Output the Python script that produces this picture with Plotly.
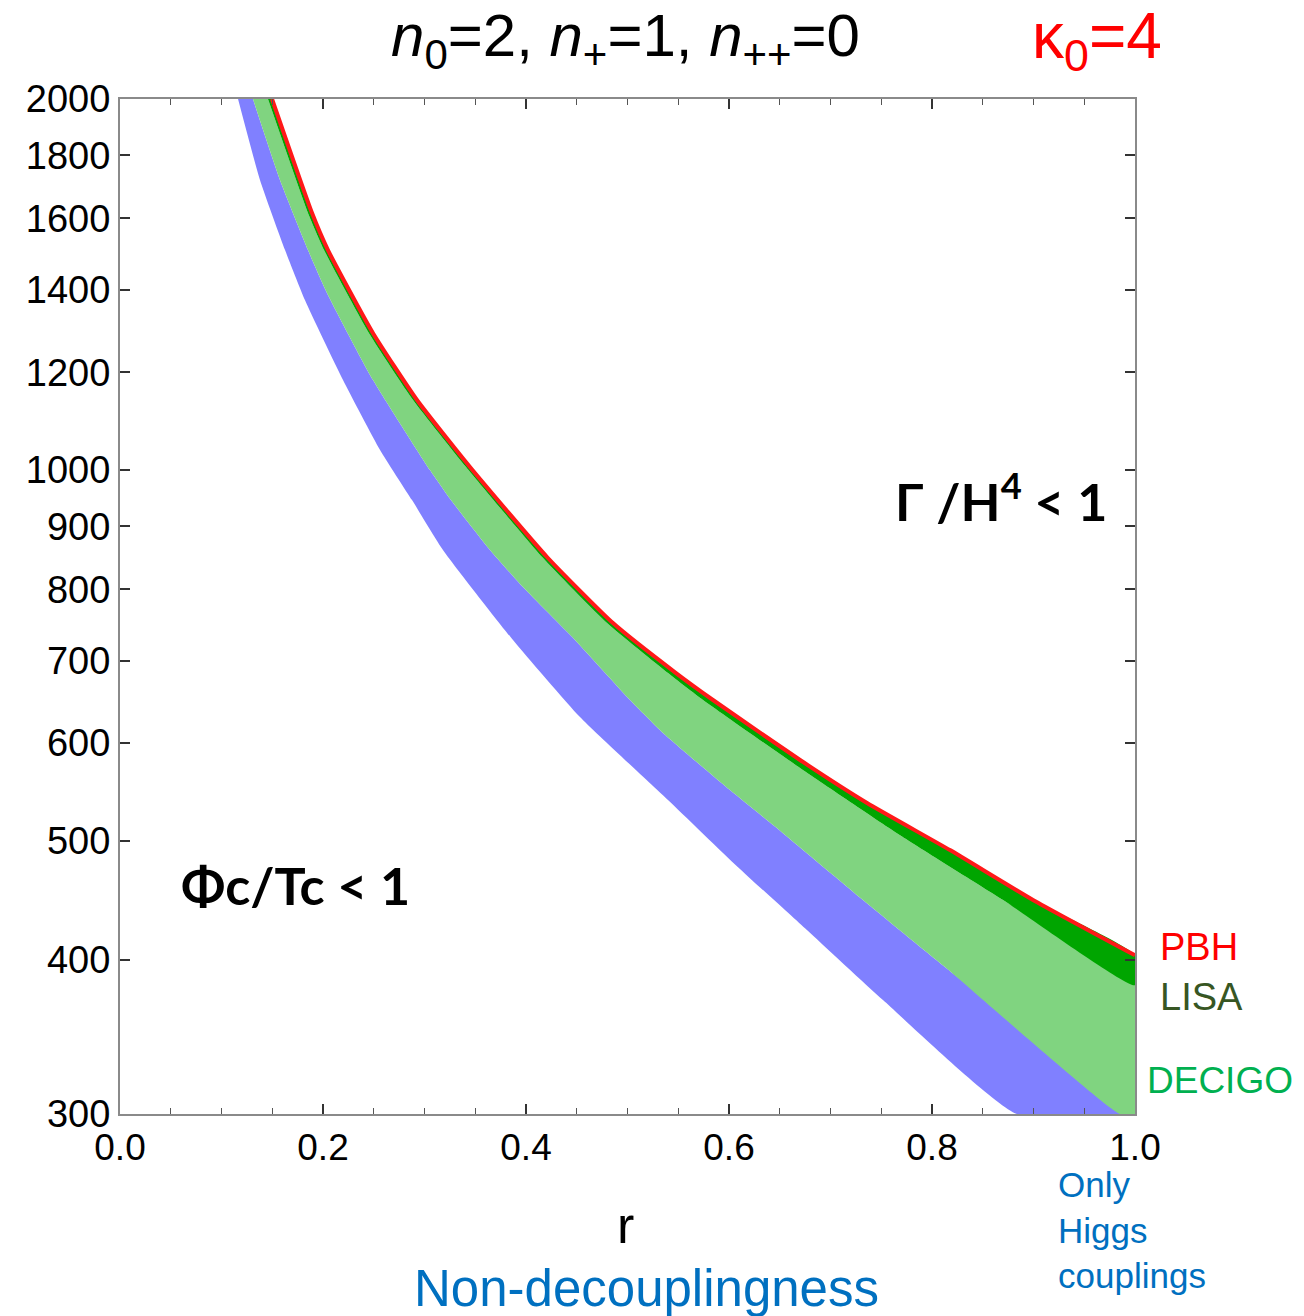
import plotly.graph_objects as go

# ---- data (r, T) ----
# lower-left edge of the blue region
blue_lo_r = [0.1163, 0.1379, 0.1626, 0.1823, 0.2197, 0.2562, 0.2877, 0.3182, 0.3872, 0.4532, 0.5399, 0.6089, 0.6768, 0.7517, 0.8837]
blue_lo_T = [2000, 1719, 1508, 1373, 1183, 1038, 945, 861, 727.6, 630, 539.6, 475.9, 423.1, 371.2, 300]

# boundary blue / light green (DECIGO lower edge)
decigo_lo_r = [0.1310, 0.1576, 0.1852, 0.2039, 0.2493, 0.3054, 0.3261, 0.3645, 0.3970, 0.4483, 0.5025, 0.5350, 0.6010, 0.6532, 0.7320, 0.8128, 0.9852]
decigo_lo_T = [2000, 1719, 1508, 1392, 1183, 999.6, 945, 861, 803.2, 727.6, 650.4, 611.5, 549.6, 507.1, 447.6, 394.8, 300]

# boundary light green / dark green (LISA lower edge)
lisa_lo_r = [0.1458, 0.1852, 0.2010, 0.2453, 0.2887, 0.3409, 0.4158, 0.4798, 0.5399, 0.5744, 0.6700, 0.7685, 0.8700, 1.0]
lisa_lo_T = [2000, 1616, 1508, 1291, 1139.5, 1005.3, 849.7, 751.0, 684.0, 650.4, 572.8, 505.2, 447.6, 381.7]

# upper edge (PBH line)
pbh_r = [0.1498, 0.1892, 0.2049, 0.2493, 0.2926, 0.3448, 0.4207, 0.4857, 0.5478, 0.5842, 0.6700, 0.7360, 0.8177, 0.8995, 1.0]
pbh_T = [2000, 1616, 1508, 1291, 1139.5, 1005.3, 849.7, 751.0, 684.0, 650.4, 581.4, 536.5, 491.3, 447.6, 403.6]

x_range = [0.0, 1.0]
y_range = [300, 2000]
x_ticks = [0.0, 0.2, 0.4, 0.6, 0.8, 1.0]
x_ticktext = ["0.0", "0.2", "0.4", "0.6", "0.8", "1.0"]
y_ticks = [300, 400, 500, 600, 700, 800, 900, 1000, 1200, 1400, 1600, 1800, 2000]
y_ticktext = [str(v) for v in y_ticks]

BLUE = "rgb(128,128,255)"
LGREEN = "rgb(128,212,128)"
DGREEN = "rgb(0,165,0)"
RED = "rgb(255,25,25)"

fig = go.Figure()

SM = 0.5

# blue region
fig.add_trace(go.Scatter(
    x=blue_lo_r + decigo_lo_r[::-1], y=blue_lo_T + decigo_lo_T[::-1],
    fill="toself", fillcolor=BLUE, mode="lines",
    line=dict(width=0, shape="spline", smoothing=SM),
    hoverinfo="skip", showlegend=False))

# light green region (DECIGO)
fig.add_trace(go.Scatter(
    x=decigo_lo_r + [x_range[1]] + lisa_lo_r[::-1],
    y=decigo_lo_T + [y_range[0]] + lisa_lo_T[::-1],
    fill="toself", fillcolor=LGREEN, mode="lines",
    line=dict(width=0, shape="spline", smoothing=SM),
    hoverinfo="skip", showlegend=False))

# dark green region (LISA)
fig.add_trace(go.Scatter(
    x=lisa_lo_r + pbh_r[::-1], y=lisa_lo_T + pbh_T[::-1],
    fill="toself", fillcolor=DGREEN, mode="lines",
    line=dict(width=0, shape="spline", smoothing=SM),
    hoverinfo="skip", showlegend=False))

# red PBH line
fig.add_trace(go.Scatter(
    x=pbh_r, y=pbh_T, mode="lines",
    line=dict(color=RED, width=4, shape="spline", smoothing=SM),
    hoverinfo="skip", showlegend=False))

L, R, T, B = 120, 1135, 99, 1114
W, H = 1304, 1316

def px(xp):
    return (xp - L) / (R - L)

def py(yp):
    return (B - yp) / (B - T)

fig.update_layout(
    width=W, height=H,
    margin=dict(l=L, r=W - R, t=T, b=H - B),
    plot_bgcolor="white", paper_bgcolor="white",
    font=dict(family="Liberation Sans, Arial, sans-serif", color="black"),
)

fig.update_xaxes(
    range=x_range, tickvals=x_ticks, ticktext=x_ticktext,
    showgrid=False, zeroline=False,
    showline=True, linecolor="#8a8a8a", linewidth=2, mirror="ticks",
    ticks="inside", ticklen=10, tickwidth=1.5, tickcolor="#333",
    tickfont=dict(size=37, family="Liberation Sans, Arial, sans-serif"),
    minor=dict(dtick=0.05, ticks="inside", ticklen=6, tickwidth=1, tickcolor="#555"),
)
fig.update_yaxes(
    type="log", range=[3.0 - 0.5228787, 3.30103],
    tickvals=y_ticks, ticktext=y_ticktext,
    showgrid=False, zeroline=False,
    showline=True, linecolor="#8a8a8a", linewidth=2, mirror="ticks",
    ticks="inside", ticklen=10, tickwidth=1.5, tickcolor="#333",
    tickfont=dict(size=38, family="Liberation Sans, Arial, sans-serif"),
)

ann = []
def add(text, x, y, size, color="black", family="Liberation Sans, Arial, sans-serif", xanchor="center", yanchor="middle"):
    ann.append(dict(text=text, x=px(x), y=py(y), xref="paper", yref="paper",
                    showarrow=False, font=dict(size=size, color=color, family=family),
                    xanchor=xanchor, yanchor=yanchor, align="left"))

add("<i>n</i><sub>0</sub>=2, <i>n</i><sub>+</sub>=1, <i>n</i><sub>++</sub>=0", 625, 40, 60)
add("κ<sub>0</sub>=4", 1030, 40, 64, color="rgb(255,0,0)", xanchor="left")
add("r", 625, 1225, 52)
add("Non-decouplingness", 646, 1288, 51, color="rgb(0,112,192)")
add("Only<br>Higgs<br>couplings", 1056, 1230, 35, color="rgb(0,112,192)", xanchor="left")
add("PBH", 1158, 947, 38, color="rgb(255,0,0)", xanchor="left")
add("LISA", 1158, 997, 38, color="rgb(55,86,35)", xanchor="left")
add("DECIGO", 1145, 1080, 37, color="rgb(0,176,80)", xanchor="left")
add("<b>Γ /H<sup>4</sup> &lt; 1</b>", 1001, 497, 52, family="Lato, Noto Sans, sans-serif")
add("<b>Φc/Tc &lt; 1</b>", 295, 885, 52, family="Lato, Noto Sans, sans-serif")

fig.update_layout(annotations=ann)

fig.write_html("out.html")
